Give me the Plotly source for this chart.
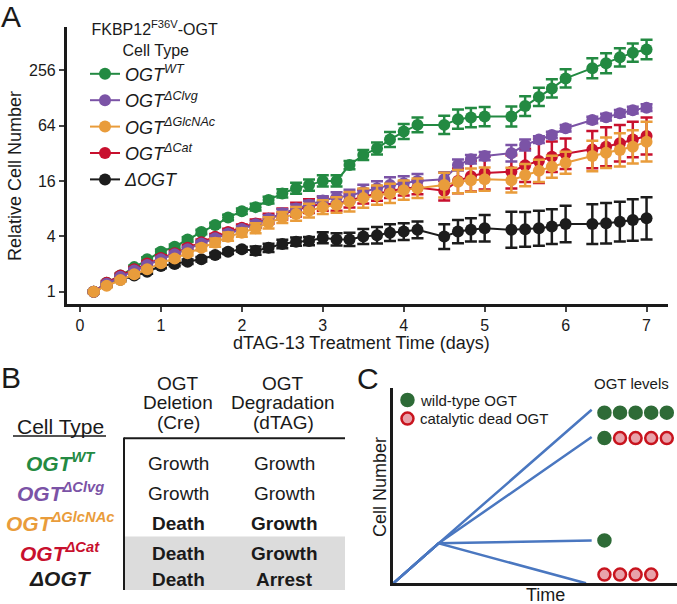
import math
import plotly.graph_objects as go

FONT = "Liberation Sans, Arial, Helvetica, sans-serif"
W, H = 677, 604

# ---------------- Panel A data ----------------
days = [0.17, 0.33, 0.5, 0.67, 0.83, 1.0, 1.17, 1.33, 1.5, 1.67, 1.83, 2.0,
        2.17, 2.33, 2.5, 2.67, 2.83, 3.0, 3.17, 3.33, 3.5, 3.67, 3.83, 4.0, 4.17,
        4.5, 4.67, 4.83, 5.0, 5.33, 5.5, 5.67, 5.83, 6.0,
        6.33, 6.5, 6.67, 6.83, 7.0]

wt = [1.0, 1.25, 1.5, 1.85, 2.25, 2.72, 3.08, 3.7, 4.45, 5.3, 6.4, 7.5,
      8.3, 9.9, 11.7, 13.3, 14.4, 16.0, 16.0, 23.8, 30.6, 36, 45, 55, 65,
      65, 75, 78, 80, 80, 104, 131, 162, 208,
      268, 304, 352, 396, 428]
wt_err = [0.05, 0.06, 0.06, 0.06, 0.07, 0.08, 0.08, 0.08, 0.08, 0.08, 0.1, 0.1,
          0.12, 0.12, 0.15, 0.2, 0.2, 0.2, 0.2, 0.15, 0.18, 0.22, 0.27, 0.27, 0.27,
          0.33, 0.35, 0.35, 0.35, 0.36, 0.36, 0.33, 0.33, 0.33,
          0.36, 0.36, 0.33, 0.33, 0.35]

clvg = [1.0, 1.22, 1.45, 1.7, 1.95, 2.25, 2.55, 2.9, 3.35, 3.8, 4.3, 4.8,
        5.4, 6.2, 7.1, 8.0, 8.8, 9.8, 10.6, 11.0, 12.2, 13.3, 14.4, 15.1, 16.0,
        16.7, 23.8, 27.5, 29.8, 32, 39.3, 45, 50.5, 59.7,
        73.5, 78.8, 86.8, 94, 100]
clvg_err = [0.05, 0.06, 0.06, 0.07, 0.07, 0.08, 0.08, 0.08, 0.08, 0.1, 0.1, 0.1,
            0.12, 0.12, 0.15, 0.15, 0.15, 0.15, 0.18, 0.22, 0.25, 0.25, 0.28, 0.25, 0.25,
            0.25, 0.2, 0.15, 0.15, 0.3, 0.2, 0.12, 0.12, 0.12,
            0.12, 0.12, 0.12, 0.12, 0.12]

glcnac = [1.0, 1.16, 1.34, 1.55, 1.75, 2.04, 2.3, 2.61, 3.0, 3.41, 3.96, 4.38,
          4.9, 5.6, 6.4, 7.0, 7.6, 8.3, 8.75, 9.5, 10.4, 11.2, 11.7, 12.7, 13.3,
          14.4, 15.7, 16.3, 16.7, 16.3, 18.5, 20.6, 22.8, 25.2,
          29.8, 32.4, 34.7, 37.6, 42.7]
glcnac_err = [0.05, 0.06, 0.06, 0.07, 0.07, 0.08, 0.08, 0.08, 0.1, 0.15, 0.15, 0.15,
              0.18, 0.2, 0.2, 0.25, 0.25, 0.25, 0.28, 0.35, 0.35, 0.35, 0.35, 0.35, 0.35,
              0.45, 0.42, 0.42, 0.42, 0.45, 0.4, 0.4, 0.4, 0.4,
              0.55, 0.55, 0.6, 0.6, 0.72]

cat = [1.0, 1.25, 1.5, 1.75, 2.02, 2.32, 2.62, 3.0, 3.45, 3.95, 4.45, 4.95,
       5.5, 6.2, 7.0, 7.8, 8.5, 9.0, 9.0, 9.8, 10.8, 11.6, 12.4, 13.2, 13.6,
       12.5, 16.0, 18.0, 19.5, 20.1, 23.6, 26.4, 29.3, 31.6,
       35.0, 37.6, 41.0, 45.0, 49.2]
cat_err = [0.05, 0.06, 0.07, 0.08, 0.08, 0.1, 0.1, 0.1, 0.1, 0.1, 0.12, 0.12,
           0.15, 0.18, 0.2, 0.25, 0.25, 0.25, 0.25, 0.25, 0.25, 0.25, 0.25, 0.25, 0.25,
           0.35, 0.45, 0.55, 0.6, 0.6, 0.6, 0.8, 0.55, 0.55,
           0.67, 0.7, 0.66, 0.64, 0.67]

dogt = [1.0, 1.18, 1.35, 1.5, 1.65, 1.9, 2.0, 2.12, 2.25, 2.5, 2.72, 2.89,
        2.79, 3.0, 3.3, 3.5, 3.55, 3.85, 3.7, 3.7, 3.97, 4.1, 4.38, 4.5, 4.7,
        3.97, 4.5, 4.7, 4.9, 4.7, 4.76, 4.9, 5.1, 5.43,
        5.43, 5.54, 5.77, 6.0, 6.27]
dogt_err = [0.05, 0.06, 0.06, 0.07, 0.07, 0.08, 0.08, 0.08, 0.08, 0.08, 0.08, 0.08,
            0.15, 0.15, 0.15, 0.15, 0.15, 0.2, 0.22, 0.24, 0.27, 0.3, 0.3, 0.3, 0.3,
            0.45, 0.42, 0.42, 0.48, 0.65, 0.63, 0.63, 0.63, 0.66,
            0.72, 0.73, 0.72, 0.75, 0.76]

series_names = ["<i>OGT<sup>WT</sup></i>", "<i>OGT<sup>ΔClvg</sup></i>",
                "<i>OGT<sup>ΔGlcNAc</sup></i>", "<i>OGT<sup>ΔCat</sup></i>", "<i>ΔOGT</i>"]
series_colors = ["#238A42", "#7B53A6", "#E99C3B", "#C8102E", "#1C1C1C"]
series_vals = [wt, clvg, glcnac, cat, dogt]
series_errs = [wt_err, clvg_err, glcnac_err, cat_err, dogt_err]

y_ticks = [1, 4, 16, 64, 256]
x_ticks = [0, 1, 2, 3, 4, 5, 6, 7]

# ---------------- Panel B data ----------------
b_cell_types = ["OGT<sup>WT</sup>", "OGT<sup>ΔClvg</sup>", "OGT<sup>ΔGlcNAc</sup>",
                "OGT<sup>ΔCat</sup>", "ΔOGT"]
b_deletion = ["Growth", "Growth", "Death", "Death", "Death"]
b_degradation = ["Growth", "Growth", "Growth", "Growth", "Arrest"]
b_bold = [False, False, True, True, True]

# ---------------- Panel C data (schematic units) ----------------
c_trunk_x = [0, 1.6]
c_trunk_y = [0, 2.05]
c_end_x = [7.0, 7.0, 7.0, 6.8]
c_end_y = [8.9, 7.5, 2.2, 0.0]
c_dot_x = [7.45, 8.0, 8.55, 9.1, 9.65]
c_rows_y = [8.75, 7.45, 2.2, 0.45]
c_rows = [["wt", "wt", "wt", "wt", "wt"],
          ["wt", "cd", "cd", "cd", "cd"],
          ["wt"],
          ["cd", "cd", "cd", "cd"]]


def px(x):
    return x / W


def py(y):
    return 1 - y / H


fig = go.Figure()

# draw order: black, green, red, purple, orange (orange on top)
order = [4, 0, 3, 1, 2]
for i in order:
    vals = series_vals[i]
    errs = series_errs[i]
    up = [v * (2 ** e - 1) for v, e in zip(vals, errs)]
    dn = [v * (1 - 2 ** (-e)) for v, e in zip(vals, errs)]
    fig.add_trace(go.Scatter(
        x=days, y=vals, mode="lines+markers", name=series_names[i],
        line=dict(color=series_colors[i], width=2),
        marker=dict(color=series_colors[i], size=12, symbol="circle"),
        error_y=dict(type="data", symmetric=False, array=up, arrayminus=dn,
                     color=series_colors[i], thickness=2.5, width=6),
        legendrank=i + 1, xaxis="x", yaxis="y", cliponaxis=False,
    ))

# Panel C lines
c_line_col = "#4A77C0"
for ex, ey in zip(c_end_x, c_end_y):
    fig.add_trace(go.Scatter(
        x=[c_trunk_x[0], c_trunk_x[1], ex], y=[c_trunk_y[0], c_trunk_y[1], ey],
        mode="lines", line=dict(color=c_line_col, width=2.5),
        showlegend=False, xaxis="x2", yaxis="y2", hoverinfo="skip", cliponaxis=False))

WT_FILL = "#2E6B37"
CD_FILL = "#E8A2AA"
CD_LINE = "#C8141E"
dx, dy, dfill, dline = [], [], [], []
for ry, row in zip(c_rows_y, c_rows):
    for k, kind in enumerate(row):
        dx.append(c_dot_x[k])
        dy.append(ry)
        dfill.append(WT_FILL if kind == "wt" else CD_FILL)
        dline.append(WT_FILL if kind == "wt" else CD_LINE)
# legend dots for panel C
dx += [0.5, 0.5]
dy += [9.4, 8.45]
dfill += [WT_FILL, CD_FILL]
dline += [WT_FILL, CD_LINE]
fig.add_trace(go.Scatter(
    x=dx, y=dy, mode="markers",
    marker=dict(size=12, color=dfill, line=dict(color=dline, width=2.5)),
    showlegend=False, xaxis="x2", yaxis="y2", hoverinfo="skip", cliponaxis=False))

# ---------------- Layout ----------------
NB = "\u00a0"
fig.update_layout(
    width=W, height=H,
    margin=dict(l=0, r=0, t=0, b=0),
    paper_bgcolor="white", plot_bgcolor="white",
    font=dict(family=FONT, size=16, color="#1a1a1a"),
    xaxis=dict(domain=[px(66.7), px(668)], range=[-0.164, 7.265],
               tickvals=x_ticks, ticks="outside", ticklen=5, tickwidth=1.5,
               showline=True, linecolor="#1a1a1a", linewidth=2.5,
               showgrid=False, zeroline=False, tickfont=dict(size=16),
               anchor="y"),
    yaxis=dict(domain=[py(304), py(27)], type="log",
               range=[math.log10(2 ** -0.444), math.log10(2 ** 9.556)],
               tickvals=y_ticks, ticktext=[str(v) for v in y_ticks],
               ticks="outside", ticklen=5, tickwidth=1.5,
               showline=True, linecolor="#1a1a1a", linewidth=2.5,
               showgrid=False, zeroline=False, tickfont=dict(size=16),
               anchor="x"),
    xaxis2=dict(domain=[px(393.3), px(676.7)], range=[0, 10], showline=True,
                linecolor="#1a1a1a", linewidth=2.5, showgrid=False, zeroline=False,
                showticklabels=False, ticks="", anchor="y2", fixedrange=True),
    yaxis2=dict(domain=[py(583.3), py(388.3)], range=[0, 10], showline=True,
                linecolor="#1a1a1a", linewidth=2.5, showgrid=False, zeroline=False,
                showticklabels=False, ticks="", anchor="x2", fixedrange=True),
    legend=dict(x=px(85), y=py(14), xanchor="left", yanchor="top",
                bgcolor="rgba(0,0,0,0)", font=dict(size=18, family=FONT),
                title=dict(text=NB + "FKBP12<sup>F36V</sup>-OGT<br>" + NB * 8 + "Cell Type",
                           side="top", font=dict(size=16, family=FONT)),
                tracegroupgap=0, itemwidth=30),
    showlegend=True,
)

ann = []


def add_text(x, y, text, size, color="#1a1a1a", angle=0, xanchor="center"):
    ann.append(dict(x=px(x), y=py(y), xref="paper", yref="paper", text=text,
                    showarrow=False, font=dict(size=size, color=color, family=FONT),
                    textangle=angle, xanchor=xanchor, yanchor="middle"))


# panel labels
add_text(11, 17, "A", 30)
add_text(11, 377, "B", 30)
add_text(368, 378, "C", 30)

# panel A axis titles
add_text(15, 176, "Relative Cell Number", 18, angle=-90)
add_text(361, 343, "dTAG-13 Treatment Time (days)", 18)

# panel B
add_text(60, 426, "Cell Type", 21)
for i, t in enumerate(["OGT", "Deletion", "(Cre)"]):
    add_text(178, 383 + 19.5 * i, t, 19)
for i, t in enumerate(["OGT", "Degradation", "(dTAG)"]):
    add_text(283, 383 + 19.5 * i, t, 19)
row_y = [463, 493, 523, 553, 579]
for i in range(5):
    add_text(60, row_y[i] - 1, "<b><i>" + b_cell_types[i] + "</i></b>", 21,
             color=series_colors[i])
    d = b_deletion[i]
    g = b_degradation[i]
    if b_bold[i]:
        d = "<b>" + d + "</b>"
        g = "<b>" + g + "</b>"
    add_text(178, row_y[i], d, 19)
    add_text(284, row_y[i], g, 19)

# panel C texts
add_text(380, 487, "Cell Number", 18, angle=-90)
add_text(545, 595, "Time", 18)
add_text(631, 383, "OGT levels", 15)
add_text(418, 400, "wild-type OGT", 15, xanchor="left")
add_text(418, 418.5, "catalytic dead OGT", 15, xanchor="left")

fig.update_layout(annotations=ann)

shapes = [
    dict(type="rect", xref="paper", yref="paper", x0=px(125), x1=px(345),
         y0=py(590), y1=py(536.5), fillcolor="#DCDCDC", line=dict(width=0), layer="below"),
    dict(type="line", xref="paper", yref="paper", x0=px(124), x1=px(345),
         y0=py(438.3), y1=py(438.3), line=dict(color="#1a1a1a", width=2)),
    dict(type="line", xref="paper", yref="paper", x0=px(124), x1=px(124),
         y0=py(437.5), y1=py(590), line=dict(color="#1a1a1a", width=2)),
    dict(type="line", xref="paper", yref="paper", x0=px(13), x1=px(106),
         y0=py(436), y1=py(436), line=dict(color="#1a1a1a", width=1.5)),
]
fig.update_layout(shapes=shapes)

fig.write_html("out.html", config={"displayModeBar": False},
               post_script="document.body.style.margin='0';document.body.style.padding='0';")
